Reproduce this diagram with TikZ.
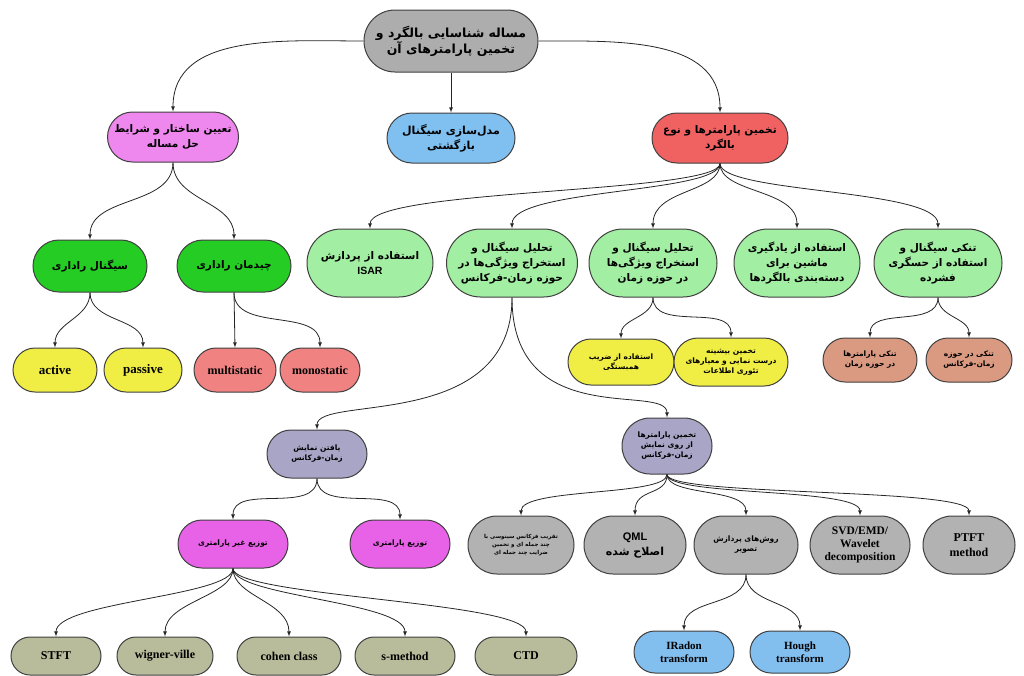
\documentclass[tikz,border=0pt]{standalone}
\usepackage{fontspec}
\setmainfont{Liberation Serif}
\newfontfamily\fafont[Script=Arabic]{DejaVu Sans}
\newfontfamily\latsans{Liberation Sans}
\TeXXeTstate=1
\usetikzlibrary{shapes.misc,positioning}
\newcommand{\fa}[1]{{\fafont\bfseries\beginR #1\endR}}
\definecolor{topgrey}{HTML}{ADADAD}
\definecolor{pinkc}{HTML}{EE88EE}
\definecolor{bluec}{HTML}{80C0F0}
\definecolor{redc}{HTML}{F06262}
\definecolor{lgreen}{HTML}{A2EEA2}
\definecolor{dgreen}{HTML}{24CC24}
\definecolor{yellowc}{HTML}{F0EE44}
\definecolor{salmonc}{HTML}{F08282}
\definecolor{brownc}{HTML}{DA9A82}
\definecolor{lavc}{HTML}{A9A5C6}
\definecolor{magc}{HTML}{E862E8}
\definecolor{greyc}{HTML}{B2B2B2}
\definecolor{olivec}{HTML}{B8BC9A}
\definecolor{lblue}{HTML}{82BEEE}

\begin{document}
\begin{tikzpicture}
		[   x=1pt,y=-1pt,
		    bnode/.style={rounded rectangle,draw=black!75,line width=1pt,fill=#1,align=center,inner sep=2pt},
		]
		\tikzset{normal arrow/.style={draw,black!85,line width=0.8pt,-latex}}
		\useasboundingbox (0,0) rectangle (1024,675);

		% level 0 and 1
		\node[bnode=topgrey,minimum width=178pt,minimum height=62pt,font=\fontsize{12.5}{16}\selectfont] (top) at (451,41) {\fa{مساله شناسایی بالگرد و}\\\fa{تخمین پارامترهای آن}};
		\node[bnode=pinkc,minimum width=135pt,minimum height=50pt,font=\fontsize{10.5}{15}\selectfont] (struct) at (173,137) {\fa{تعیین ساختار و شرایط}\\\fa{حل مساله}};
		\node[bnode=bluec,minimum width=132pt,minimum height=50pt,font=\fontsize{11}{15}\selectfont] (model) at (451,138) {\fa{مدل‌سازی سیگنال}\\\fa{بازگشتی}};
		\node[bnode=redc,minimum width=140pt,minimum height=50pt,font=\fontsize{10.5}{15}\selectfont] (estim) at (720,138) {\fa{تخمین پارامترها و نوع}\\\fa{بالگرد}};

		% level 2
		\node[bnode=dgreen,minimum width=118pt,minimum height=52pt,font=\fontsize{10.5}{14}\selectfont] (sig) at (90,266) {\fa{سیگنال راداری}};
		\node[bnode=dgreen,minimum width=118pt,minimum height=52pt,font=\fontsize{10.5}{14}\selectfont] (arr) at (234,266) {\fa{چیدمان راداری}};

		\node[bnode=lgreen,minimum width=130pt,minimum height=68pt,font=\fontsize{10.5}{15}\selectfont] (isar) at (370,263) {\fa{استفاده از پردازش}\\{\latsans\bfseries ISAR}};
		\node[bnode=lgreen,minimum width=135pt,minimum height=68pt,font=\fontsize{10.5}{15}\selectfont] (tfa) at (512,263) {\fa{تحلیل سیگنال و}\\\fa{استخراج ویژگی‌ها در}\\\fa{حوزه زمان-فرکانس}};
		\node[bnode=lgreen,minimum width=132pt,minimum height=68pt,font=\fontsize{10.5}{15}\selectfont] (tda) at (653,263) {\fa{تحلیل سیگنال و}\\\fa{استخراج ویژگی‌ها}\\\fa{در حوزه زمان}};
		\node[bnode=lgreen,minimum width=130pt,minimum height=68pt,font=\fontsize{10.5}{15}\selectfont] (ml) at (797,263) {\fa{استفاده از یادگیری}\\\fa{ماشین برای}\\\fa{دسته‌بندی بالگردها}};
		\node[bnode=lgreen,minimum width=132pt,minimum height=68pt,font=\fontsize{10.5}{15}\selectfont] (cs) at (938,263) {\fa{تنکی سیگنال و}\\\fa{استفاده از حسگری}\\\fa{فشرده}};

		% level 3
		\node[bnode=yellowc,minimum width=88pt,minimum height=44pt,font=\fontsize{13}{15}\selectfont\bfseries] (act) at (55,370) {active};
		\node[bnode=yellowc,minimum width=82pt,minimum height=44pt,font=\fontsize{13}{15}\selectfont\bfseries] (pas) at (143,370) {passive};
		\node[bnode=salmonc,minimum width=86pt,minimum height=44pt,font=\fontsize{12}{15}\selectfont\bfseries] (multi) at (235,370) {multistatic};
		\node[bnode=salmonc,minimum width=84pt,minimum height=44pt,font=\fontsize{12}{15}\selectfont\bfseries] (mono) at (320,370) {monostatic};

		\node[bnode=yellowc,minimum width=110pt,minimum height=46pt,font=\fontsize{7.5}{10}\selectfont] (corr) at (621,362) {\fa{استفاده از ضریب}\\\fa{همبستگی}};
		\node[bnode=yellowc,minimum width=118pt,minimum height=48pt,font=\fontsize{7.5}{10}\selectfont] (mle) at (731,362) {\fa{تخمین بیشینه}\\\fa{درست نمایی و معیارهای}\\\fa{تئوری اطلاعات}};
		\node[bnode=brownc,minimum width=98pt,minimum height=44pt,font=\fontsize{7.5}{10}\selectfont] (spt) at (870,360) {\fa{تنکی پارامترها}\\\fa{در حوزه زمان}};
		\node[bnode=brownc,minimum width=90pt,minimum height=44pt,font=\fontsize{7.5}{10}\selectfont] (sptf) at (969,360) {\fa{تنکی در حوزه}\\\fa{زمان-فرکانس}};

		% level 4
		\node[bnode=lavc,minimum width=104pt,minimum height=48pt,font=\fontsize{7.5}{10}\selectfont] (tfr) at (317,454) {\fa{یافتن نمایش}\\\fa{زمان-فرکانس}};
		\node[bnode=lavc,minimum width=94pt,minimum height=56pt,font=\fontsize{7.5}{10}\selectfont] (tfp) at (667,446) {\fa{تخمین پارامترها}\\\fa{از روی نمایش}\\\fa{زمان-فرکانس}};

		\node[bnode=magc,minimum width=114pt,minimum height=48pt,font=\fontsize{7.5}{10}\selectfont] (nonpar) at (233,544) {\fa{توزیع غیر پارامتری}};
		\node[bnode=magc,minimum width=104pt,minimum height=48pt,font=\fontsize{7.5}{10}\selectfont] (par) at (400,544) {\fa{توزیع پارامتری}};

		\node[bnode=greyc,minimum width=110pt,minimum height=58pt,font=\fontsize{5.5}{8}\selectfont] (poly) at (521,545) {\fa{تقریب فرکانس سینوسی با}\\\fa{چند جمله ای و تخمین}\\\fa{ضرایب چند جمله ای}};
		\node[bnode=greyc,minimum width=106pt,minimum height=58pt,font=\fontsize{11}{15}\selectfont] (qml) at (635,545) {{\latsans\bfseries QML}\\\fa{اصلاح شده}};
		\node[bnode=greyc,minimum width=108pt,minimum height=58pt,font=\fontsize{7.5}{10}\selectfont] (imgp) at (746,545) {\fa{روش‌های پردازش}\\\fa{تصویر}};
		\node[bnode=greyc,minimum width=104pt,minimum height=58pt,font=\fontsize{11.5}{13}\selectfont\bfseries] (svd) at (860,545) {SVD/EMD/\\Wavelet\\decomposition};
		\node[bnode=greyc,minimum width=96pt,minimum height=58pt,font=\fontsize{12}{15}\selectfont\bfseries] (ptft) at (969,545) {PTFT\\method};

		% level 5
		\node[bnode=olivec,minimum width=94pt,minimum height=38pt,font=\fontsize{12}{15}\selectfont\bfseries] (stft) at (56,656) {STFT};
		\node[bnode=olivec,minimum width=100pt,minimum height=38pt,font=\fontsize{12}{15}\selectfont\bfseries] (wv) at (165,656) {wigner-ville};
		\node[bnode=olivec,minimum width=108pt,minimum height=38pt,font=\fontsize{12}{15}\selectfont\bfseries] (cohen) at (289,656) {cohen class};
		\node[bnode=olivec,minimum width=104pt,minimum height=38pt,font=\fontsize{12}{15}\selectfont\bfseries] (sm) at (405,656) {s-method};
		\node[bnode=olivec,minimum width=106pt,minimum height=38pt,font=\fontsize{12}{15}\selectfont\bfseries] (ctd) at (526,656) {CTD};

		\node[bnode=lblue,minimum width=104pt,minimum height=42pt,font=\fontsize{11}{13}\selectfont\bfseries] (irad) at (684,652) {IRadon\\transform};
		\node[bnode=lblue,minimum width=104pt,minimum height=42pt,font=\fontsize{11}{13}\selectfont\bfseries] (hough) at (800,652) {Hough\\transform};

		% connectors
		\path[normal arrow] (top.west) to[out=180,in=90] (struct.north);
		\path[normal arrow] (top.south) -- (model.north);
		\path[normal arrow] (top.east) to[out=0,in=90] (estim.north);

		\foreach \n in {sig,arr}
			\path[normal arrow] (struct.south) to[out=-90,in=90] (\n.north);

		\foreach \n in {isar,tfa,tda,ml,cs}
			\path[normal arrow] (estim.south) .. controls +(0,30) and +(0,-40) .. (\n.north);

		\foreach \n in {act,pas}
			\path[normal arrow] (sig.south) to[out=-90,in=90] (\n.north);
		\path[normal arrow] (arr.south) -- (multi.north);
		\path[normal arrow] (arr.south) to[out=-90,in=90] (mono.north);

		\foreach \n in {corr,mle}
			\path[normal arrow] (tda.south) to[out=-90,in=90] (\n.north);
		\foreach \n in {spt,sptf}
			\path[normal arrow] (cs.south) to[out=-90,in=90] (\n.north);

		\foreach \n in {tfr,tfp}
			\path[normal arrow] (tfa.south) .. controls +(0,135) and +(0,-35) .. (\n.north);
		\foreach \n in {nonpar,par}
			\path[normal arrow] (tfr.south) to[out=-90,in=90] (\n.north);
		\foreach \n in {poly,qml,imgp,svd,ptft}
			\path[normal arrow] (tfp.south) .. controls +(0,22) and +(0,-28) .. (\n.north);
		\foreach \n in {stft,wv,cohen,sm,ctd}
			\path[normal arrow] (nonpar.south) .. controls +(0,28) and +(0,-35) .. (\n.north);
		\foreach \n in {irad,hough}
			\path[normal arrow] (imgp.south) to[out=-90,in=90] (\n.north);

\end{tikzpicture}
\end{document}
